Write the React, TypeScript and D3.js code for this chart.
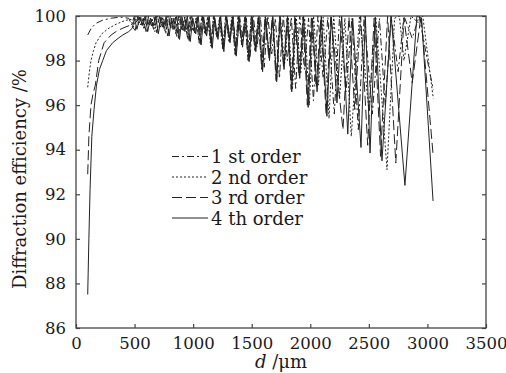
import React, { useEffect, useRef } from "react";
import * as d3 from "d3";

// d (um), diffraction efficiency (%), peaks and troughs
const order1: [number, number][] = [
  [100, 99.15], [130, 99.45], [171, 99.67], [230, 99.82], [300, 99.9], [380, 99.95], [450, 99.9],
  [475, 99.6], [498, 100], [522, 99.7], [545, 99.95], [568, 99.5], [592, 100], [616, 99.65], [639, 99.9],
  [662, 99.4], [686, 100], [710, 99.55], [733, 99.95], [757, 99.3], [781, 100], [806, 99.5], [829, 99.9],
  [853, 99.2], [877, 100], [902, 99.4], [926, 99.95], [951, 99.05], [975, 100], [1000, 99.3], [1025, 99.9],
  [1050, 98.9], [1075, 100], [1101, 99.25], [1126, 99.95], [1153, 98.75], [1178, 100], [1205, 99.1],
  [1231, 99.9], [1259, 98.6], [1285, 100], [1313, 99.0], [1340, 99.95], [1369, 98.4], [1396, 100],
  [1426, 98.9], [1454, 99.9], [1485, 98.1], [1513, 100], [1545, 98.6], [1574, 99.95], [1607, 97.7],
  [1637, 100], [1671, 98.3], [1702, 99.9], [1737, 97.2], [1769, 100], [1805, 98.0], [1838, 99.95],
  [1875, 96.75], [1910, 100], [1950, 97.6], [1985, 99.9], [2027, 96.2], [2065, 100], [2110, 97.2],
  [2150, 99.95], [2205, 95.6], [2250, 100], [2305, 96.6], [2355, 99.9], [2410, 94.9], [2460, 100],
  [2530, 95.6], [2590, 99.9], [2640, 96.0], [2690, 100], [2750, 97.5], [2800, 100], [2870, 99.0],
  [2930, 100], [3000, 98.0], [3050, 96.7],
];

const order2: [number, number][] = [
  [100, 96.8], [114, 97.5], [128, 98.0], [150, 98.45], [171, 98.8], [220, 99.2], [282, 99.46],
  [350, 99.65], [420, 99.8], [470, 99.85],
  [490, 99.5], [512, 100], [535, 99.6], [557, 99.95], [581, 99.4], [603, 100], [627, 99.55], [650, 99.9],
  [673, 99.3], [696, 100], [720, 99.5], [742, 99.95], [766, 99.2], [789, 100], [813, 99.45], [836, 99.9],
  [860, 99.05], [882, 100], [907, 99.35], [930, 99.95], [955, 98.95], [978, 100], [1003, 99.3], [1026, 99.9],
  [1051, 98.8], [1074, 100], [1100, 99.2], [1123, 99.95], [1150, 98.65], [1173, 100], [1200, 99.05],
  [1225, 99.9], [1252, 98.5], [1277, 100], [1305, 98.9], [1330, 99.95], [1358, 98.3], [1384, 100],
  [1413, 98.8], [1440, 99.9], [1470, 98.05], [1497, 100], [1528, 98.5], [1556, 99.95], [1588, 97.65],
  [1617, 100], [1650, 98.2], [1680, 99.9], [1714, 97.15], [1745, 100], [1780, 97.8], [1812, 99.95],
  [1848, 96.7], [1880, 100], [1918, 97.4], [1952, 99.9], [1992, 96.0], [2028, 100], [2070, 96.9],
  [2110, 99.95], [2160, 95.4], [2200, 100], [2250, 96.3], [2295, 99.9], [2350, 94.6], [2420, 100],
  [2500, 95.8], [2560, 99.9], [2655, 93.1], [2720, 99.9], [2760, 100], [2800, 98.0], [2860, 100],
  [2920, 99.7], [2960, 100], [3050, 96.3],
];

const order3: [number, number][] = [
  [100, 92.9], [110, 94.6], [128, 96.0], [145, 96.5], [165, 96.9], [194, 98.0], [240, 98.8],
  [300, 99.15], [356, 99.35], [420, 99.5], [470, 99.6],
  [505, 99.35], [528, 100], [552, 99.6], [574, 99.9], [598, 99.3], [620, 100], [645, 99.55], [667, 99.95],
  [690, 99.25], [713, 100], [737, 99.5], [758, 99.9], [783, 99.1], [805, 100], [828, 99.4], [850, 99.95],
  [874, 99.0], [896, 100], [920, 99.3], [942, 99.9], [966, 98.9], [988, 100], [1012, 99.25], [1035, 99.95],
  [1060, 98.75], [1082, 100], [1108, 99.15], [1130, 99.9], [1156, 98.6], [1178, 100], [1205, 99.0],
  [1228, 99.95], [1255, 98.45], [1280, 100], [1308, 98.85], [1333, 99.9], [1360, 98.25], [1386, 100],
  [1415, 98.7], [1441, 99.95], [1470, 98.0], [1497, 100], [1528, 98.45], [1555, 99.9], [1586, 97.6],
  [1614, 100], [1646, 98.1], [1675, 99.95], [1708, 97.1], [1738, 100], [1772, 97.7], [1802, 99.9],
  [1837, 96.7], [1868, 100], [1904, 97.3], [1937, 99.95], [1975, 96.0], [2010, 100], [2050, 96.8],
  [2090, 99.9], [2135, 95.6], [2175, 100], [2279, 94.9], [2330, 99.95], [2380, 95.8], [2430, 100],
  [2490, 94.2], [2545, 99.9], [2600, 93.7], [2660, 100], [2730, 93.4], [2800, 99.9], [2870, 97.0],
  [2945, 100], [3048, 93.8],
];

const order4: [number, number][] = [
  [100, 87.5], [110, 90.0], [120, 92.2], [135, 94.6], [154, 95.8], [175, 96.9], [200, 97.6], [228, 98.0],
  [260, 98.45], [313, 98.8], [360, 99.0], [400, 99.15], [450, 99.3], [480, 99.45],
  [500, 99.9], [520, 99.4], [545, 99.95], [565, 99.6], [590, 100], [612, 99.3], [635, 99.9], [658, 99.55],
  [680, 100], [703, 99.2], [725, 99.95], [748, 99.5], [770, 100], [795, 99.1], [815, 99.9], [838, 99.4],
  [860, 100], [884, 98.95], [905, 99.95], [930, 99.3], [950, 100], [975, 98.85], [997, 99.9], [1022, 99.2],
  [1043, 100], [1068, 98.7], [1090, 99.95], [1115, 99.1], [1137, 100], [1163, 98.55], [1185, 99.9],
  [1212, 98.95], [1235, 100], [1262, 98.4], [1287, 99.95], [1315, 98.8], [1340, 100], [1368, 98.2],
  [1393, 99.9], [1422, 98.6], [1448, 100], [1478, 97.95], [1505, 99.95], [1535, 98.4], [1562, 100],
  [1593, 97.5], [1620, 99.9], [1652, 98.0], [1680, 100], [1713, 97.05], [1742, 99.95], [1776, 97.6],
  [1806, 100], [1842, 96.6], [1873, 99.9], [1910, 97.2], [1943, 100], [1982, 95.9], [2017, 99.9],
  [2058, 96.6], [2094, 100], [2142, 95.5], [2180, 99.95], [2228, 96.1], [2268, 100], [2320, 94.7],
  [2362, 99.9], [2433, 94.1], [2470, 100], [2510, 93.85], [2555, 99.95], [2612, 93.5], [2690, 100],
  [2808, 92.4], [2910, 100], [2950, 99.9], [3048, 91.7],
];

const seriesNames = ["1 st order", "2 nd order", "3 rd order", "4 th order"];
const seriesData = [order1, order2, order3, order4];
const dashes = ["7,3,2,3", "2,2", "10,4", "none"];

const xTicks = [0, 500, 1000, 1500, 2000, 2500, 3000, 3500];
const yTicks = [86, 88, 90, 92, 94, 96, 98, 100];

const W = 506;
const H = 373;
const margin = { top: 16, right: 20, bottom: 45, left: 76 };
const font = "'DejaVu Serif', serif";

const App: React.FC = () => {
  const svgRef = useRef<SVGSVGElement | null>(null);

  useEffect(() => {
    if (!svgRef.current) return;
    const svg = d3.select(svgRef.current);
    svg.selectAll("*").remove();

    const x = d3.scaleLinear().domain([0, 3500]).range([margin.left, W - margin.right]);
    const y = d3.scaleLinear().domain([86, 100]).range([H - margin.bottom, margin.top]);

    svg.append("defs").append("clipPath").attr("id", "plot-clip")
      .append("rect")
      .attr("x", margin.left).attr("y", margin.top)
      .attr("width", x(3500) - x(0)).attr("height", y(86) - y(100));

    const line = d3.line<[number, number]>().x((d) => x(d[0])).y((d) => y(d[1]));

    const lines = svg.append("g").attr("clip-path", "url(#plot-clip)");
    seriesData.forEach((s, i) => {
      lines.append("path")
        .attr("d", line(s) ?? "")
        .attr("fill", "none")
        .attr("stroke", "#222")
        .attr("stroke-width", 1)
        .attr("stroke-dasharray", dashes[i]);
    });

    // frame
    svg.append("rect")
      .attr("x", x(0)).attr("y", y(100))
      .attr("width", x(3500) - x(0)).attr("height", y(86) - y(100))
      .attr("fill", "none").attr("stroke", "#444").attr("stroke-width", 1.3);

    const xAxis = svg.append("g")
      .attr("transform", `translate(0,${y(86)})`)
      .call(d3.axisBottom(x).tickValues(xTicks).tickSizeInner(-4).tickSizeOuter(0).tickPadding(9).tickFormat(d3.format("d")));
    const yAxis = svg.append("g")
      .attr("transform", `translate(${x(0)},0)`)
      .call(d3.axisLeft(y).tickValues(yTicks).tickSizeInner(-4).tickSizeOuter(0).tickPadding(10).tickFormat(d3.format("d")));
    svg.append("g")
      .attr("transform", `translate(${x(3500)},0)`)
      .call(d3.axisRight(y).tickValues(yTicks).tickSizeInner(-4).tickSizeOuter(0).tickFormat(() => ""));

    svg.selectAll(".domain").remove();
    svg.selectAll(".tick line").attr("stroke", "#444").attr("stroke-width", 1.2);
    [xAxis, yAxis].forEach((a) =>
      a.selectAll("text")
        .style("font-family", font)
        .style("font-size", "16.5px")
        .attr("fill", "#1a1a1a")
    );

    // legend
    const lg = svg.append("g");
    seriesNames.forEach((name, i) => {
      const by = 163 + i * 20.5;
      lg.append("line")
        .attr("x1", 172).attr("x2", 208)
        .attr("y1", by - 6.5).attr("y2", by - 6.5)
        .attr("stroke", "#222").attr("stroke-width", 1)
        .attr("stroke-dasharray", dashes[i]);
      lg.append("text")
        .attr("x", 211).attr("y", by)
        .style("font-family", font).style("font-size", "18px")
        .attr("fill", "#1a1a1a")
        .text(name);
    });

    // axis titles
    svg.append("text")
      .attr("transform", `translate(26,${(y(86) + y(100)) / 2 + 7}) rotate(-90)`)
      .attr("text-anchor", "middle")
      .style("font-family", font).style("font-size", "18px")
      .attr("fill", "#1a1a1a")
      .text("Diffraction efficiency /%");

    const xt = svg.append("text")
      .attr("x", (x(0) + x(3500)) / 2).attr("y", 368)
      .attr("text-anchor", "middle")
      .style("font-family", font).style("font-size", "18px")
      .attr("fill", "#1a1a1a");
    xt.append("tspan").style("font-style", "italic").text("d");
    xt.append("tspan").text(" /\u03bcm");
  }, []);

  return (
    <svg
      ref={svgRef}
      width={W}
      height={H}
      style={{ position: "absolute", left: 0, top: 0, background: "#fff" }}
    />
  );
};

export default App;
